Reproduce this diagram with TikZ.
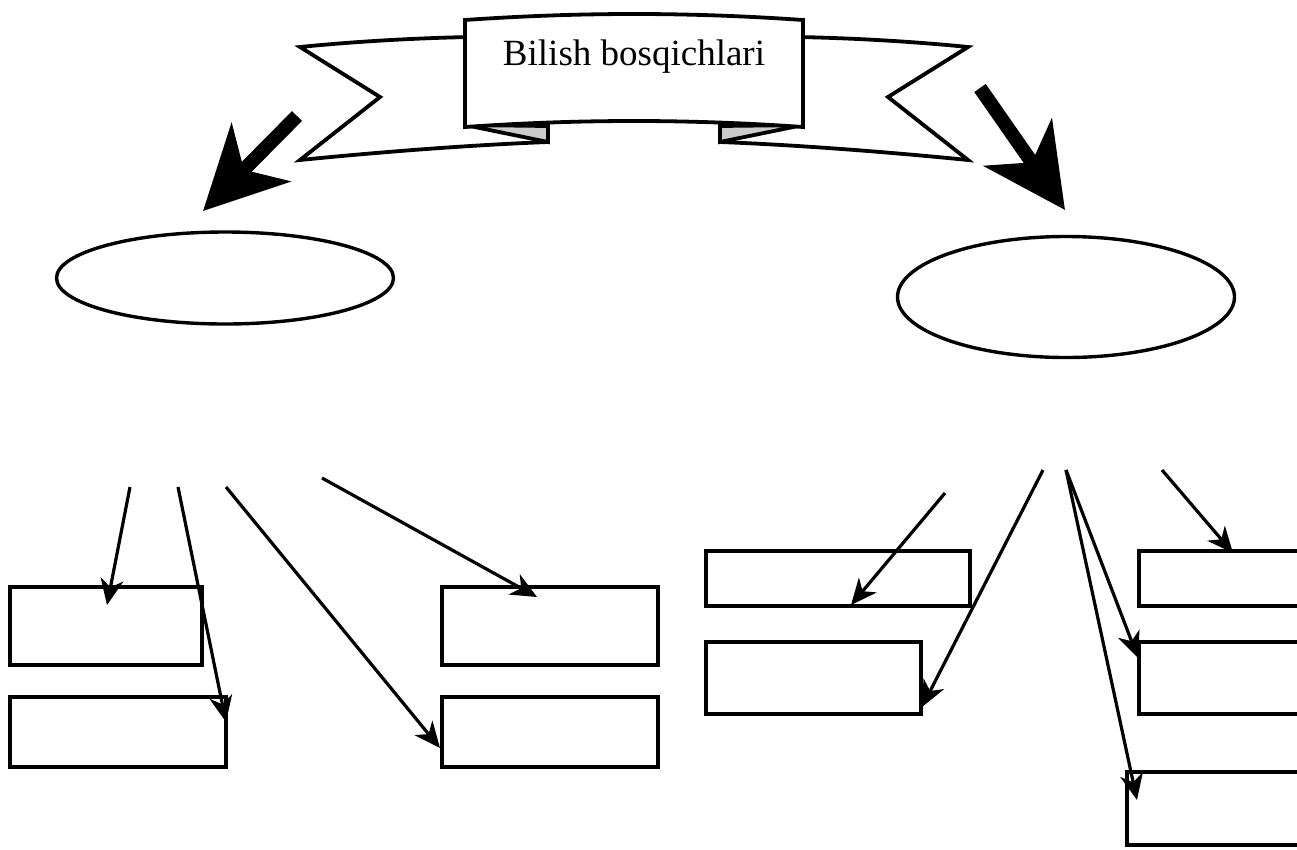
\documentclass[tikz,border=0pt]{standalone}
\usepackage{fontspec}
\setmainfont{Liberation Serif}
\usetikzlibrary{arrows.meta,positioning,shapes.geometric}
\definecolor{InkMain}{HTML}{000000}
\definecolor{FoldFill}{HTML}{CCCCCC}
\tikzset{
  every picture/.append style={>=Stealth},
  ban/.style={draw=InkMain, fill=white, line width=3.8pt, line join=miter},
  fold/.style={draw=InkMain, fill=FoldFill, line width=3.8pt, line join=miter},
  oval/.style={ellipse, draw=InkMain, line width=3.4pt, inner sep=0pt},
  box/.style={rectangle, draw=InkMain, line width=4.6pt, inner sep=0pt},
  bigflow/.style={-{Stealth[length=82pt,width=82pt,inset=24pt]}, line width=14pt, draw=InkMain},
  flow/.style={-{Stealth[length=26pt,width=23pt,inset=8pt]}, line width=3.2pt, draw=InkMain},
  ttl/.style={font=\fontsize{37}{42}\selectfont, inner sep=0pt},
}

\begin{document}
\begin{tikzpicture}[x=1pt,y=-1pt]
\clip (0,0) rectangle (1297,849);

% ---------------- banner -------------------------------------------------------
\draw[ban] (470,37) .. controls (420,38) and (360,41) .. (300,47) -- (380,97) -- (300,160)
  .. controls (380,152) and (470,145) .. (548,142) -- (548,126) -- (470,126) -- cycle;
\draw[ban] (798,37) .. controls (848,38) and (908,41) .. (968,47) -- (888,97) -- (968,160)
  .. controls (888,152) and (798,145) .. (720,142) -- (720,126) -- (798,126) -- cycle;
\draw[fold] (465,125) -- (548,126) -- (548,142) -- cycle;
\draw[fold] (803,125) -- (720,126) -- (720,142) -- cycle;
\draw[ban] (465,20) .. controls (580,12) and (688,12) .. (803,20) -- (803,127)
  .. controls (688,119) and (580,119) .. (465,127) -- cycle;
\node[ttl] (title) at (634,57) {Bilish bosqichlari};

% ---------------- big arrows ----------------------------------------------------
\coordinate (bl0) at (297,116); \coordinate (bl1) at (203,211);
\coordinate (br0) at (980,88);  \coordinate (br1) at (1065,210);
\draw[bigflow] (bl0) -- (bl1);
\draw[bigflow] (br0) -- (br1);

% ---------------- ellipses ------------------------------------------------------
\node[oval, minimum width=337pt, minimum height=92pt] (ovL) at (225,278) {};
\node[oval, minimum width=337pt, minimum height=121pt] (ovR) at (1066,297) {};

% ---------------- left boxes ----------------------------------------------------
\node[box, minimum width=192pt, minimum height=78pt] (L1) at (106,626) {};
\node[box, minimum width=216pt, minimum height=70pt] (L2) at (118,732) {};
\node[box, minimum width=216pt, minimum height=78pt] (L3) at (550,626) {};
\node[box, minimum width=216pt, minimum height=70pt] (L4) at (550,732) {};

% ---------------- right boxes ---------------------------------------------------
\node[box, minimum width=264pt, minimum height=55pt] (R1) at (838,578.5) {};
\node[box, minimum width=215pt, minimum height=72pt] (R2) at (813.5,678) {};
\node[box, minimum width=201pt, minimum height=55pt] (R3) at (1239.5,578.5) {};
\node[box, minimum width=201pt, minimum height=72pt] (R4) at (1239.5,678) {};
\node[box, minimum width=213pt, minimum height=73pt] (R5) at (1233.5,808.5) {};

% ---------------- thin arrows ---------------------------------------------------
\coordinate (a1) at (130,487); \coordinate (t1) at (107,605);
\coordinate (a2) at (178,487); \coordinate (t2) at (226,722);
\coordinate (a3) at (226,487); \coordinate (t3) at (440,748);
\coordinate (a4) at (322,478); \coordinate (t4) at (537,597);
\draw[flow] (a1) -- (t1);
\draw[flow] (a2) -- (t2);
\draw[flow] (a3) -- (t3);
\draw[flow] (a4) -- (t4);

\coordinate (b1) at (945,493);  \coordinate (u1) at (851,605);
\coordinate (b2) at (1043,470); \coordinate (u2) at (922,707);
\coordinate (b3) at (1066,470); \coordinate (u3) at (1138,658);
\coordinate (u4) at (1137,800);
\coordinate (b5) at (1162,470); \coordinate (u5) at (1233,553);
\draw[flow] (b1) -- (u1);
\draw[flow] (b2) -- (u2);
\draw[flow] (b3) -- (u3);
\draw[flow] (b3) -- (u4);
\draw[flow] (b5) -- (u5);

\end{tikzpicture}
\end{document}
